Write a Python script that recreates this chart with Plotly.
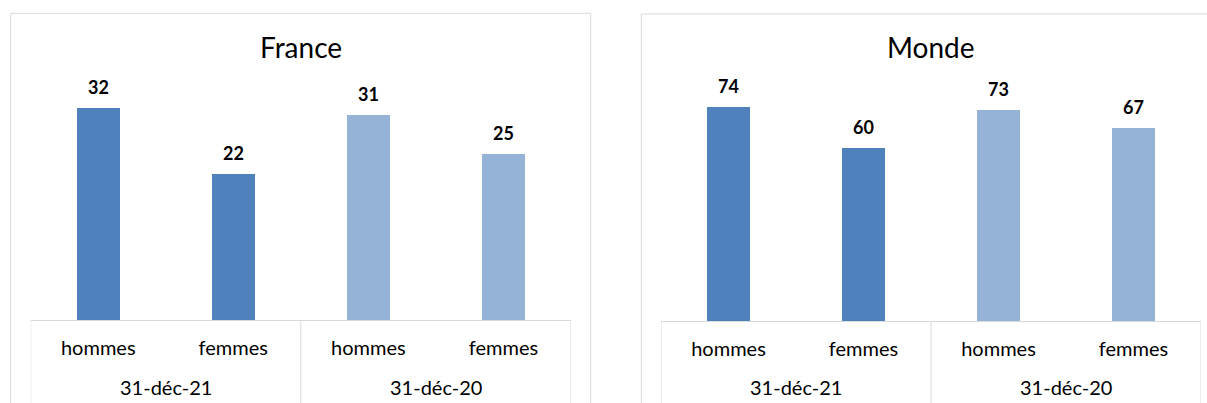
import plotly.graph_objects as go

W, H = 1207, 403

genres = ["hommes", "femmes", "hommes", "femmes"]
dates = ["31-déc-21", "31-déc-20"]
france_vals = [32, 22, 31, 25]
monde_vals = [74, 60, 73, 67]
bar_colors = ["#4F81BD", "#4F81BD", "#95B3D7", "#95B3D7"]
titles = ["France", "Monde"]

FONT = "Lato"
GRID = "#D9D9D9"

def px_x(p):
    return p / W

def px_y(p):
    return 1 - p / H

fig = go.Figure()

panels = [
    dict(vals=france_vals, title=titles[0], xa="x", ya="y", xdom=[30.7, 571], ydom=[88, 320], rng=[0, 35]),
    dict(vals=monde_vals, title=titles[1], xa="x2", ya="y2", xdom=[661, 1201], ydom=[90, 321], rng=[0, 80]),
]

pos = list(range(len(genres)))
annotations = []
shapes = []

for i, p in enumerate(panels):
    fig.add_trace(go.Bar(
        x=pos, y=p["vals"], width=0.32,
        marker=dict(color=bar_colors, line=dict(width=0)),
        xaxis=p["xa"], yaxis=p["ya"], showlegend=False, hoverinfo="skip",
    ))
    sfx = "" if i == 0 else "2"
    fig.update_layout(**{
        "xaxis" + sfx: dict(
            domain=[px_x(p["xdom"][0]), px_x(p["xdom"][1])],
            range=[-0.5, 3.5], tickmode="array", tickvals=pos, ticktext=genres,
            showgrid=False, zeroline=False, ticks="", showline=True,
            linecolor=GRID, linewidth=1, anchor="y" + sfx,
            tickfont=dict(family=FONT, size=20, color="#000000"),
            ticklabelstandoff=10, fixedrange=True,
        ),
        "yaxis" + sfx: dict(
            domain=[px_y(p["ydom"][1]), px_y(p["ydom"][0])],
            range=p["rng"], visible=False, anchor="x" + sfx, fixedrange=True,
        ),
    })
    # value labels
    for xv, v in zip(pos, p["vals"]):
        annotations.append(dict(
            x=xv, y=v, xref=p["xa"], yref=p["ya"], text=str(v), showarrow=False,
            yshift=21, font=dict(family=FONT, size=18, color="#000000", weight="bold"),
        ))
    # date group labels
    for j, d in enumerate(dates):
        annotations.append(dict(
            x=2 * j + 0.5, y=px_y(387), xref=p["xa"], yref="paper", text=d,
            showarrow=False, yanchor="middle",
            font=dict(family=FONT, size=20, color="#000000"),
        ))
    # title
    annotations.append(dict(
        x=0.5, y=px_y(47), xref=p["xa"] + " domain", yref="paper", text=p["title"],
        showarrow=False, yanchor="middle",
        font=dict(family=FONT, size=28, color="#000000"),
    ))
    # category box dividers
    for xv in [-0.5, 1.5, 3.5]:
        shapes.append(dict(
            type="line", xref=p["xa"], yref="paper", x0=xv, x1=xv,
            y0=px_y(p["ydom"][1]), y1=-0.05, line=dict(color=GRID, width=1),
        ))

# outer chart frames
shapes.append(dict(type="rect", xref="paper", yref="paper",
                   x0=px_x(10.7), x1=px_x(590.7), y0=-0.05, y1=px_y(13.3),
                   line=dict(color=GRID, width=1), fillcolor="rgba(0,0,0,0)", layer="below"))
shapes.append(dict(type="rect", xref="paper", yref="paper",
                   x0=px_x(641.3), x1=1.05, y0=-0.05, y1=px_y(14),
                   line=dict(color=GRID, width=1), fillcolor="rgba(0,0,0,0)", layer="below"))

fig.update_layout(
    width=W, height=H, margin=dict(l=0, r=0, t=0, b=0),
    paper_bgcolor="white", plot_bgcolor="white",
    annotations=annotations, shapes=shapes, bargap=0,
    font=dict(family=FONT),
)

fig.write_html("out.html", config={"displayModeBar": False})
